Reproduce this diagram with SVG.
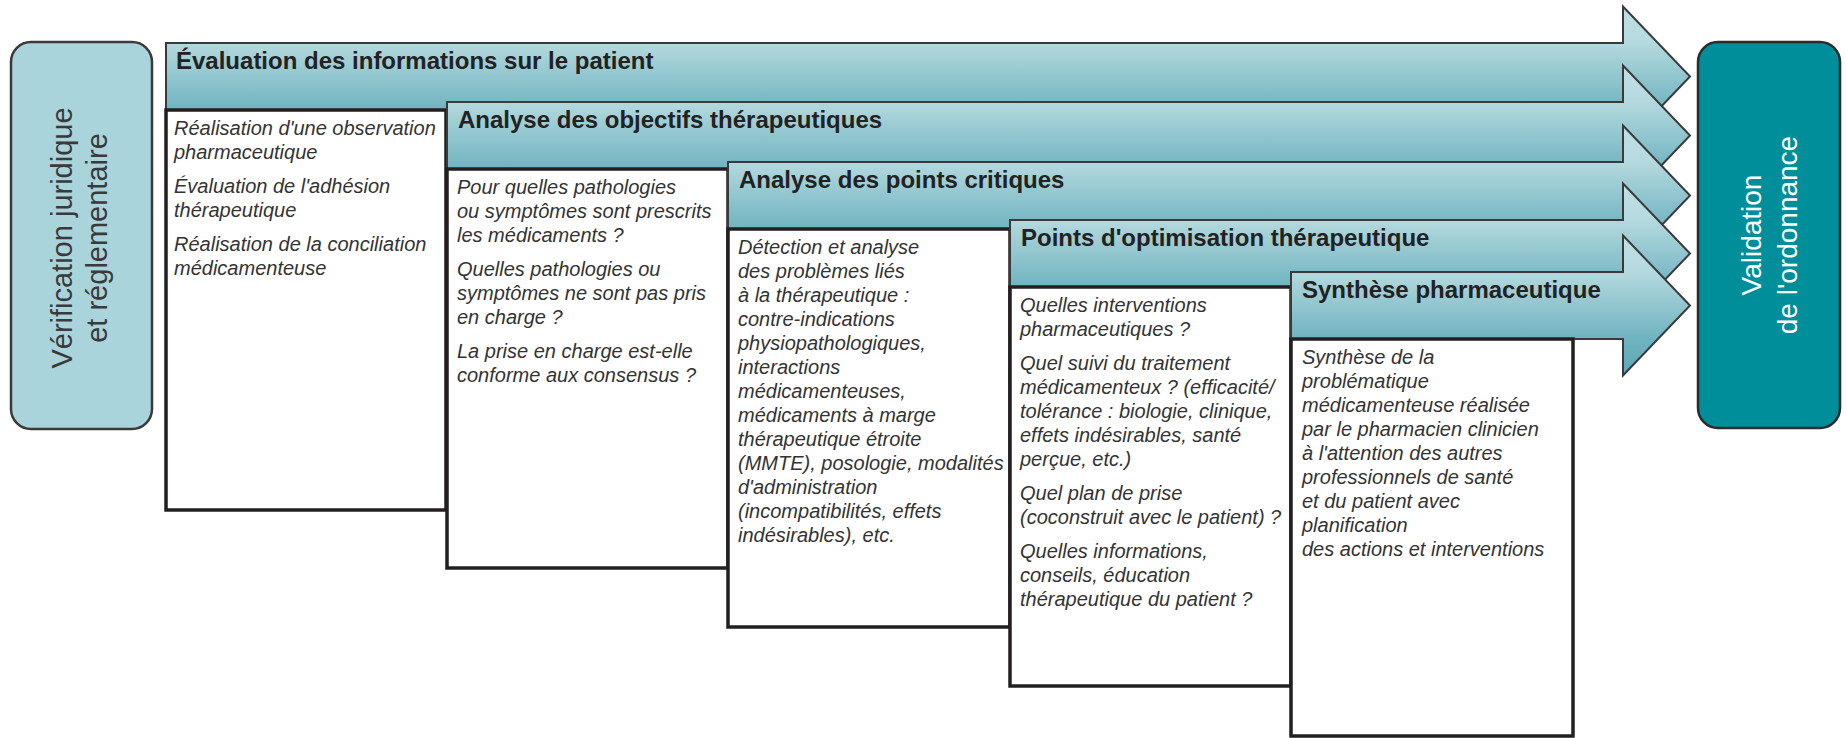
<svg xmlns="http://www.w3.org/2000/svg" width="1846" height="738" viewBox="0 0 1846 738">
<defs>
<linearGradient id="band" x1="0" y1="0" x2="0" y2="1">
<stop offset="0" stop-color="#c0e1e5"/>
<stop offset="0.26" stop-color="#b4d9de"/>
<stop offset="0.74" stop-color="#6fb3c0"/>
<stop offset="1" stop-color="#5ea8b6"/>
</linearGradient>
<style>
.arrow{fill:url(#band);stroke:#3a3a3a;stroke-width:2;stroke-linejoin:miter}
.box{fill:#ffffff;stroke:#231f20;stroke-width:3.5}
.hdr{font-family:"Liberation Sans",Arial,sans-serif;font-weight:bold;font-size:24px;fill:#222222}
.txt{font-family:"Liberation Sans",Arial,sans-serif;font-style:italic;font-size:20px;fill:#333333}
.side{fill:#aad4db;stroke:#3a3a3a;stroke-width:2.5}
.sidetxt{font-family:"Liberation Sans",Arial,sans-serif;font-size:29px;fill:#3a3a3a;text-anchor:middle}
.valid{fill:#008e9b;stroke:#2b2b2b;stroke-width:2.5}
.validtxt{font-family:"Liberation Sans",Arial,sans-serif;font-size:28px;fill:#ffffff;text-anchor:middle}
</style>
</defs>
<rect width="1846" height="738" fill="#ffffff"/>

<g id="verification">
<rect class="side" x="11" y="42" width="141" height="387" rx="20" ry="20"/>
<text class="sidetxt" transform="translate(72,238) rotate(-90)">Vérification juridique</text>
<text class="sidetxt" transform="translate(107,238) rotate(-90)">et réglementaire</text>
</g>

<g id="step1">
<path class="arrow" d="M166,43 H1623 V6.5 L1690,76.5 L1623,146.5 V110 H166 Z"/>
<text class="hdr" x="176" y="69">Évaluation des informations sur le patient</text>
<rect class="box" x="166" y="110" width="280" height="400"/>
<text class="txt" x="174" y="135">Réalisation d'une observation</text>
<text class="txt" x="174" y="159">pharmaceutique</text>
<text class="txt" x="174" y="193">Évaluation de l'adhésion</text>
<text class="txt" x="174" y="217">thérapeutique</text>
<text class="txt" x="174" y="251">Réalisation de la conciliation</text>
<text class="txt" x="174" y="275">médicamenteuse</text>
</g>

<g id="step2">
<path class="arrow" d="M447,102 H1623 V65.5 L1690,135.5 L1623,205.5 V169 H447 Z"/>
<text class="hdr" x="458" y="128">Analyse des objectifs thérapeutiques</text>
<rect class="box" x="447" y="169" width="281" height="399"/>
<text class="txt" x="457" y="194">Pour quelles pathologies</text>
<text class="txt" x="457" y="218">ou symptômes sont prescrits</text>
<text class="txt" x="457" y="242">les médicaments ?</text>
<text class="txt" x="457" y="276">Quelles pathologies ou</text>
<text class="txt" x="457" y="300">symptômes ne sont pas pris</text>
<text class="txt" x="457" y="324">en charge ?</text>
<text class="txt" x="457" y="358">La prise en charge est-elle</text>
<text class="txt" x="457" y="382">conforme aux consensus ?</text>
</g>

<g id="step3">
<path class="arrow" d="M728,162 H1623 V125.5 L1690,195.5 L1623,265.5 V229 H728 Z"/>
<text class="hdr" x="739" y="188">Analyse des points critiques</text>
<rect class="box" x="728" y="229" width="282" height="398"/>
<text class="txt" x="738" y="254">Détection et analyse</text>
<text class="txt" x="738" y="278">des problèmes liés</text>
<text class="txt" x="738" y="302">à la thérapeutique :</text>
<text class="txt" x="738" y="326">contre-indications</text>
<text class="txt" x="738" y="350">physiopathologiques,</text>
<text class="txt" x="738" y="374">interactions</text>
<text class="txt" x="738" y="398">médicamenteuses,</text>
<text class="txt" x="738" y="422">médicaments à marge</text>
<text class="txt" x="738" y="446">thérapeutique étroite</text>
<text class="txt" x="738" y="470">(MMTE), posologie, modalités</text>
<text class="txt" x="738" y="494">d'administration</text>
<text class="txt" x="738" y="518">(incompatibilités, effets</text>
<text class="txt" x="738" y="542">indésirables), etc.</text>
</g>

<g id="step4">
<path class="arrow" d="M1010,220 H1623 V183.5 L1690,253.5 L1623,323.5 V287 H1010 Z"/>
<text class="hdr" x="1021" y="246">Points d'optimisation thérapeutique</text>
<rect class="box" x="1010" y="287" width="281" height="399"/>
<text class="txt" x="1020" y="312">Quelles interventions</text>
<text class="txt" x="1020" y="336">pharmaceutiques ?</text>
<text class="txt" x="1020" y="370">Quel suivi du traitement</text>
<text class="txt" x="1020" y="394">médicamenteux ? (efficacité/</text>
<text class="txt" x="1020" y="418">tolérance : biologie, clinique,</text>
<text class="txt" x="1020" y="442">effets indésirables, santé</text>
<text class="txt" x="1020" y="466">perçue, etc.)</text>
<text class="txt" x="1020" y="500">Quel plan de prise</text>
<text class="txt" x="1020" y="524">(coconstruit avec le patient) ?</text>
<text class="txt" x="1020" y="558">Quelles informations,</text>
<text class="txt" x="1020" y="582">conseils, éducation</text>
<text class="txt" x="1020" y="606">thérapeutique du patient ?</text>
</g>

<g id="step5">
<path class="arrow" d="M1291,272 H1623 V235.5 L1690,305.5 L1623,375.5 V339 H1291 Z"/>
<text class="hdr" x="1302" y="298">Synthèse pharmaceutique</text>
<rect class="box" x="1291" y="339" width="282" height="397"/>
<text class="txt" x="1302" y="364">Synthèse de la</text>
<text class="txt" x="1302" y="388">problématique</text>
<text class="txt" x="1302" y="412">médicamenteuse réalisée</text>
<text class="txt" x="1302" y="436">par le pharmacien clinicien</text>
<text class="txt" x="1302" y="460">à l'attention des autres</text>
<text class="txt" x="1302" y="484">professionnels de santé</text>
<text class="txt" x="1302" y="508">et du patient avec</text>
<text class="txt" x="1302" y="532">planification</text>
<text class="txt" x="1302" y="556">des actions et interventions</text>
</g>

<g id="validation">
<rect class="valid" x="1698" y="42" width="142" height="386" rx="20" ry="20"/>
<text class="validtxt" transform="translate(1761,235) rotate(-90)">Validation</text>
<text class="validtxt" transform="translate(1797,235) rotate(-90)">de l'ordonnance</text>
</g>
</svg>
